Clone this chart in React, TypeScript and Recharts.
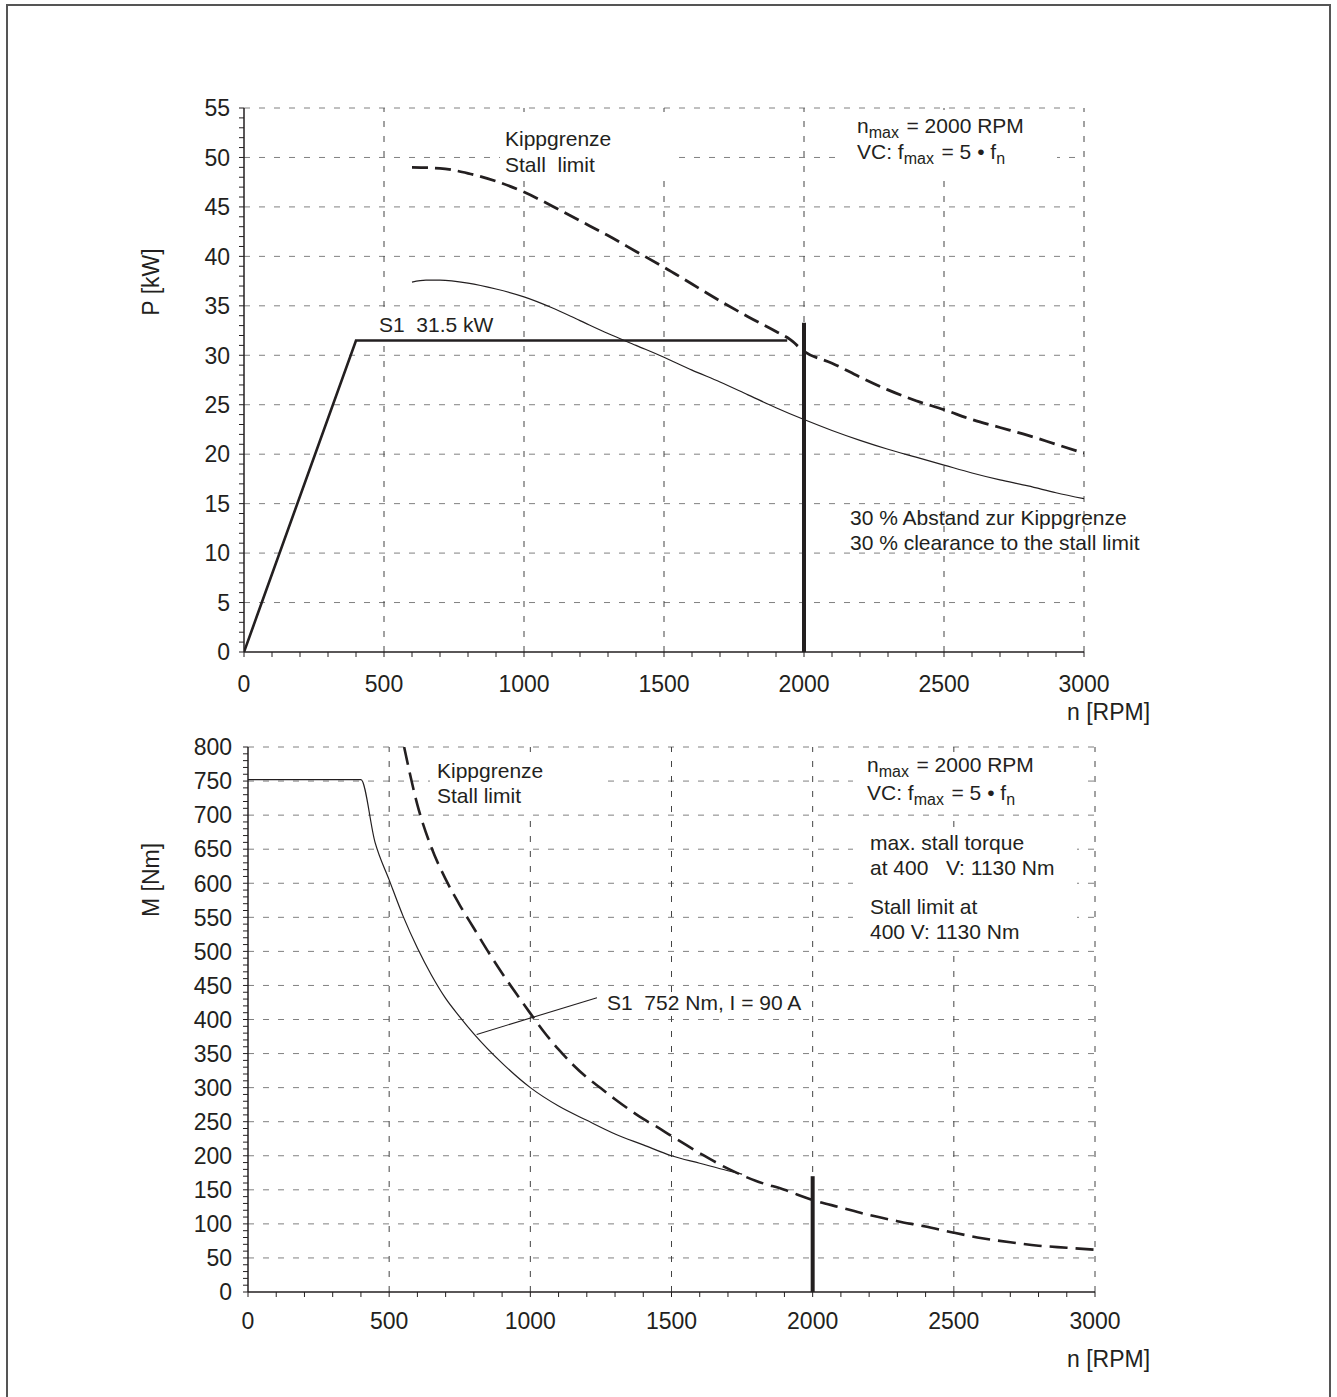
import React from "react";
import { LineChart, Line, XAxis, YAxis, ReferenceLine } from "recharts";

const FONT = "'Liberation Sans', Arial, Helvetica, sans-serif";
const INK = "#231f20";
const GRID_H = "#808080";
const GRID_V = "#444444";

// speed axis (both charts)
const rpmLabels = [0, 500, 1000, 1500, 2000, 2500, 3000];
const rpmMinor = Array.from({ length: 31 }, (_, i) => i * 100);

// power axis
const powerLabels = [0, 5, 10, 15, 20, 25, 30, 35, 40, 45, 50, 55];
const powerMinor = Array.from({ length: 56 }, (_, i) => i);

// torque axis
const torqueLabels = [0, 50, 100, 150, 200, 250, 300, 350, 400, 450, 500, 550, 600, 650, 700, 750, 800];
const torqueMinor = Array.from({ length: 81 }, (_, i) => i * 10);

// P(n): S1 duty
const s1PowerRpm = [0, 400, 1940];
const s1PowerKw = [0, 31.5, 31.5];

// P(n): stall limit (dashed)
const stallPowerRpm = [600, 700, 800, 900, 1000, 1100, 1200, 1300, 1400, 1500, 1600, 1700, 1800, 1900, 1950, 2000, 2100, 2200, 2300, 2400, 2500, 2600, 2700, 2800, 2900, 3000];
const stallPowerKw = [49.0, 48.9, 48.4, 47.6, 46.5, 45.1, 43.6, 42.1, 40.5, 38.9, 37.2, 35.5, 33.9, 32.4, 31.6, 30.4, 29.2, 27.8, 26.5, 25.4, 24.5, 23.5, 22.7, 21.9, 21.0, 20.1];

// P(n): 30 % clearance to the stall limit
const clearPowerRpm = [600, 650, 700, 800, 900, 1000, 1100, 1200, 1300, 1400, 1500, 1600, 1700, 1800, 1900, 2000, 2100, 2200, 2300, 2400, 2500, 2600, 2700, 2800, 2900, 3000];
const clearPowerKw = [37.4, 37.6, 37.6, 37.3, 36.7, 35.9, 34.8, 33.5, 32.2, 31.0, 29.8, 28.5, 27.3, 26.0, 24.7, 23.5, 22.4, 21.4, 20.5, 19.7, 18.9, 18.1, 17.4, 16.8, 16.1, 15.5];

// n_max marker
const nMaxPowerRpm = [2000, 2000];
const nMaxPowerKw = [0, 33.3];

// M(n): S1 duty
const s1TorqueRpm = [0, 400, 450, 500, 550, 600, 650, 700, 750, 800, 900, 1000, 1100, 1200, 1300, 1400, 1500, 1600, 1700, 1750];
const s1TorqueNm = [752, 752, 660, 605, 551, 505, 465, 431, 404, 379, 336, 300, 273, 252, 232, 216, 200, 189, 178, 173];

// M(n): stall limit (dashed)
const stallTorqueRpm = [553, 600, 650, 700, 750, 800, 850, 900, 950, 1000, 1050, 1100, 1150, 1200, 1250, 1300, 1350, 1400, 1450, 1500, 1600, 1700, 1800, 1900, 2000, 2100, 2200, 2300, 2400, 2500, 2600, 2700, 2800, 2900, 3000];
const stallTorqueNm = [800, 715, 652, 606, 568, 534, 500, 468, 438, 409, 381, 356, 334, 315, 299, 283, 268, 254, 242, 229, 204, 181, 163, 150, 135, 124, 113, 104, 96, 87, 79, 73, 68, 65, 62];

const nMaxTorqueRpm = [2000, 2000];
const nMaxTorqueNm = [0, 170];

// leader from S1 curve to its label
const leaderRpm = [810, 1236];
const leaderNm = [378, 432];

const zip = (xs: number[], ys: number[]) => xs.map((n, i) => ({ n, v: ys[i] }));

const XTick = (labels: number[]) => (props: any) => {
  const { x, y, payload } = props;
  if (!labels.includes(payload.value)) return null;
  return (
    <text x={x} y={y} dy="0.72em" textAnchor="middle" fontSize={23} fontFamily={FONT} fill={INK}>
      {payload.value}
    </text>
  );
};

const YTick = (labels: number[]) => (props: any) => {
  const { x, y, payload } = props;
  if (!labels.includes(payload.value)) return null;
  return (
    <text x={x} y={y} dy="0.36em" textAnchor="end" fontSize={23} fontFamily={FONT} fill={INK}>
      {payload.value}
    </text>
  );
};

const line = (data: any[], width: number, dash?: string, type: any = "monotone") => (
  <Line
    data={data}
    dataKey="v"
    type={type}
    stroke={INK}
    strokeWidth={width}
    strokeDasharray={dash}
    dot={false}
    activeDot={false}
    isAnimationActive={false}
  />
);

function PowerChart() {
  return (
    <LineChart width={1337} height={740} margin={{ top: 108, right: 253, bottom: 48, left: 184 }}>
      <XAxis
        type="number"
        dataKey="n"
        domain={[0, 3000]}
        ticks={rpmMinor}
        interval={0}
        height={40}
        tickSize={5}
        tickMargin={18}
        axisLine={{ stroke: INK, strokeWidth: 1.5 }}
        tickLine={{ stroke: INK }}
        tick={XTick(rpmLabels)}
        allowDataOverflow
      />
      <YAxis
        type="number"
        domain={[0, 55]}
        ticks={powerMinor}
        interval={0}
        width={60}
        tickSize={5}
        tickMargin={9}
        axisLine={{ stroke: INK, strokeWidth: 1.5 }}
        tickLine={{ stroke: INK }}
        tick={YTick(powerLabels)}
        allowDataOverflow
      />
      {powerLabels.filter((v) => v > 0).map((v) => (
        <ReferenceLine key={"h" + v} y={v} stroke={GRID_H} strokeDasharray="6 9" />
      ))}
      {rpmLabels.filter((v) => v > 0).map((v) => (
        <ReferenceLine key={"v" + v} x={v} stroke={GRID_V} strokeDasharray="6 9" />
      ))}
      {line(zip(clearPowerRpm, clearPowerKw), 1.2)}
      {line(zip(stallPowerRpm, stallPowerKw), 2.8, "16 7")}
      {line(zip(s1PowerRpm, s1PowerKw), 2.6, undefined, "linear")}
      {line(zip(nMaxPowerRpm, nMaxPowerKw), 4, undefined, "linear")}
    </LineChart>
  );
}

function TorqueChart() {
  return (
    <LineChart width={1337} height={677} margin={{ top: 27, right: 242, bottom: 65, left: 188 }}>
      <XAxis
        type="number"
        dataKey="n"
        domain={[0, 3000]}
        ticks={rpmMinor}
        interval={0}
        height={40}
        tickSize={5}
        tickMargin={15}
        axisLine={{ stroke: INK, strokeWidth: 1.5 }}
        tickLine={{ stroke: INK }}
        tick={XTick(rpmLabels)}
        allowDataOverflow
      />
      <YAxis
        type="number"
        domain={[0, 800]}
        ticks={torqueMinor}
        interval={0}
        width={60}
        tickSize={5}
        tickMargin={11}
        axisLine={{ stroke: INK, strokeWidth: 1.5 }}
        tickLine={{ stroke: INK }}
        tick={YTick(torqueLabels)}
        allowDataOverflow
      />
      {torqueLabels.filter((v) => v > 0).map((v) => (
        <ReferenceLine key={"h" + v} y={v} stroke={GRID_H} strokeDasharray="6 9" />
      ))}
      {rpmLabels.filter((v) => v > 0).map((v) => (
        <ReferenceLine key={"v" + v} x={v} stroke={GRID_V} strokeDasharray="6 9" />
      ))}
      {line(zip(s1TorqueRpm, s1TorqueNm), 1.2)}
      {line(zip(stallTorqueRpm, stallTorqueNm), 2.6, "18 8")}
      {line(zip(leaderRpm, leaderNm), 1.1, undefined, "linear")}
      {line(zip(nMaxTorqueRpm, nMaxTorqueNm), 4, undefined, "linear")}
    </LineChart>
  );
}

const T = (props: any) => <text fontFamily={FONT} fontSize={21} fill={INK} {...props} />;
const Sub = ({ children }: any) => (
  <>
    <tspan fontSize={16} dy={5}>{children}</tspan>
    <tspan dy={-5}>{"\u200A"}</tspan>
  </>
);

function Notes() {
  const box = (x: number, y: number, w: number, h: number) => <rect x={x} y={y} width={w} height={h} fill="#fff" />;
  return (
    <svg width={1337} height={1397} style={{ position: "absolute", left: 0, top: 0, pointerEvents: "none" }}>
      <path d="M7,1397 V5 H1330 V1397" fill="none" stroke="#555" strokeWidth={2} />

      {/* power chart */}
      {box(500, 120, 170, 56)}
      {box(842, 110, 215, 66)}
      {box(376, 313, 96, 24)}
      <T x={505} y={146}>Kippgrenze</T>
      <T x={505} y={172} xmlSpace="preserve">Stall  limit</T>
      <T x={857} y={133}>n<Sub>max</Sub> = 2000 RPM</T>
      <T x={857} y={159}>VC: f<Sub>max</Sub> = 5 • f<Sub>n</Sub></T>
      <T x={379} y={332} xmlSpace="preserve">S1  31.5 kW</T>
      <T x={850} y={525}>30 % Abstand zur Kippgrenze</T>
      <T x={850} y={550}>30 % clearance to the stall limit</T>
      <text x={1067} y={720} fontFamily={FONT} fontSize={23} fill={INK}>n [RPM]</text>
      <text transform="translate(159,282) rotate(-90)" textAnchor="middle" fontFamily={FONT} fontSize={23} fill={INK}>P [kW]</text>

      {/* torque chart */}
      {box(430, 752, 170, 60)}
      {box(853, 752, 227, 60)}
      {box(853, 832, 224, 116)}
      {box(604, 992, 201, 24)}
      <T x={437} y={778}>Kippgrenze</T>
      <T x={437} y={803}>Stall limit</T>
      <T x={867} y={772}>n<Sub>max</Sub> = 2000 RPM</T>
      <T x={867} y={800}>VC: f<Sub>max</Sub> = 5 • f<Sub>n</Sub></T>
      <T x={870} y={850}>max. stall torque</T>
      <T x={870} y={875} xmlSpace="preserve">at 400   V: 1130 Nm</T>
      <T x={870} y={914}>Stall limit at</T>
      <T x={870} y={939}>400 V: 1130 Nm</T>
      <T x={607} y={1010} xmlSpace="preserve">S1  752 Nm, I = 90 A</T>
      <text x={1067} y={1367} fontFamily={FONT} fontSize={23} fill={INK}>n [RPM]</text>
      <text transform="translate(159,880) rotate(-90)" textAnchor="middle" fontFamily={FONT} fontSize={23} fill={INK}>M [Nm]</text>
    </svg>
  );
}

export default function App() {
  return (
    <div style={{ position: "absolute", left: 0, top: 0, width: 1337, height: 1397, background: "#fff", overflow: "hidden" }}>
      <div style={{ position: "absolute", left: 0, top: 0 }}>
        <PowerChart />
      </div>
      <div style={{ position: "absolute", left: 0, top: 720 }}>
        <TorqueChart />
      </div>
      <Notes />
    </div>
  );
}
